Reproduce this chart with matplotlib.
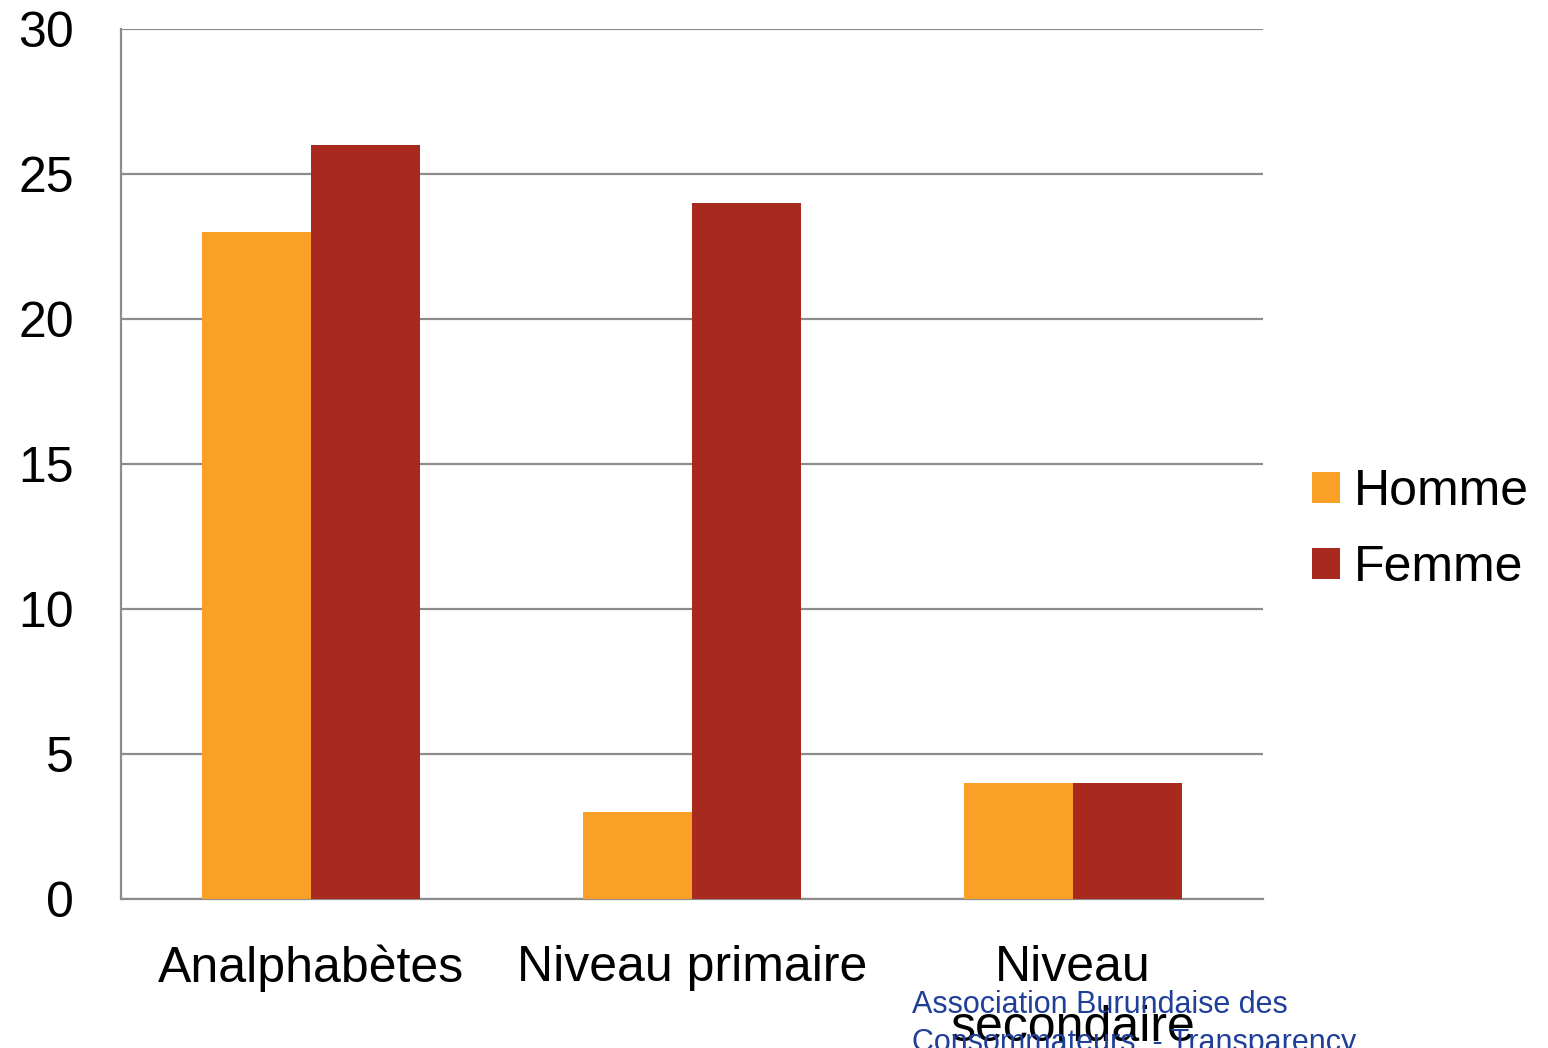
import matplotlib
matplotlib.use("Agg")
import matplotlib.pyplot as plt
import numpy as np

categories = ["Analphabètes", "Niveau primaire", "Niveau\nsecondaire"]
homme = [23, 3, 4]
femme = [26, 24, 4]
series_names = ["Homme", "Femme"]
yticks = [0, 5, 10, 15, 20, 25, 30]
source_lines = ["Association Burundaise des", "Consommateurs  - Transparency"]

plt.rcParams['font.family'] = ['Liberation Sans', 'DejaVu Sans']

W, H = 1548, 1048
fig = plt.figure(figsize=(W/100, H/100), dpi=100)
ax = fig.add_axes([121/W, 1-899/H, (1263-121)/W, (899-29)/H])

x = np.arange(len(categories))
bw = 0.286
c_h = '#FBA026'
c_f = '#A82A1E'
ax.bar(x - bw/2, homme, bw, color=c_h, label=series_names[0], zorder=3)
ax.bar(x + bw/2, femme, bw, color=c_f, label=series_names[1], zorder=3)

ax.set_xlim(-0.5, 2.5)
ax.set_ylim(0, 30)
ax.set_yticks(yticks)
ax.set_yticklabels([str(v) for v in yticks], fontsize=36)
ax.set_xticks(x)
ax.set_xticklabels(categories, fontsize=36, linespacing=1.4)
ax.tick_params(axis='both', length=0)
ax.tick_params(axis='y', pad=34)
ax.tick_params(axis='x', pad=33)
ax.yaxis.grid(True, color='#8C8C8C', linewidth=1.6, zorder=0)
for s in ['top', 'right']:
    ax.spines[s].set_visible(False)
for s in ['left', 'bottom']:
    ax.spines[s].set_color('#8C8C8C')
    ax.spines[s].set_linewidth(1.6)

leg = ax.legend(loc='center left', bbox_to_anchor=(1312/W, 1-530/H), bbox_transform=fig.transFigure,
                frameon=False, fontsize=36, handlelength=0.56, handleheight=0.56,
                handletextpad=0.28, labelspacing=0.6, borderpad=0, borderaxespad=0)

for i, line in enumerate(source_lines):
    fig.text(912/W, 1-(1013+38*i)/H, line, fontsize=22, color='#1F3F99',
             ha='left', va='baseline')

fig.savefig("out.png", dpi=100)
